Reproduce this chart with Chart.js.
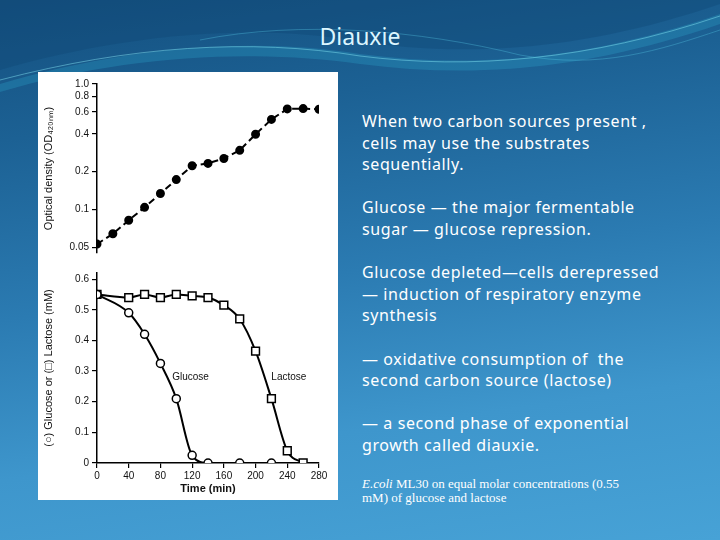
<!DOCTYPE html>
<html>
<head>
<meta charset="utf-8">
<script src="https://cdn.jsdelivr.net/npm/chart.js@4.4.1/dist/chart.umd.min.js"></script>
<style>
  html, body { margin: 0; padding: 0; }
  #slide {
    position: relative; width: 720px; height: 540px; overflow: hidden;
    background: linear-gradient(172deg, #14507f 0%, #1c6194 22%, #2b7bb2 50%, #3e96cc 75%, #47a2d6 100%);
  }
  #swoosh { position: absolute; left: 0; top: 0; }
  #title {
    position: absolute; left: 0; width: 720px; top: 20px; text-align: center;
    font-family: 'Comic Sans MS', 'Noto Sans', sans-serif; font-size: 23px; color: #dcf6ff;
  }
  #figure { position: absolute; left: 38px; top: 72px; width: 300px; height: 428px; background: #fff; }
  #figure canvas { position: absolute; left: 0; }
  #notes {
    position: absolute; left: 362px; top: 111px; width: 358px; color: #fff; white-space: nowrap;
    font-family: 'Comic Sans MS', 'Noto Sans', sans-serif; font-size: 16px;
    line-height: 21.6px; letter-spacing: 0.6px;
  }
  #notes p { margin: 0 0 21.6px 0; }
  #source {
    position: absolute; left: 362px; top: 477px; width: 340px; color: #fff; white-space: nowrap;
    font-family: 'Liberation Serif', serif; font-size: 13px; line-height: 14px; letter-spacing: 0px;
  }
</style>
</head>
<body>
<div id="slide">
  <svg id="swoosh" width="720" height="110" viewBox="0 0 720 110">
    <path d="M0,70 C110,38 240,22 350,40 C460,58 580,52 720,4 L720,0 L0,0 Z" fill="#0f4672" opacity="0.35"/>
    <path d="M0,84 C120,48 250,36 360,54 C470,68 580,62 720,14 L720,24 C580,72 470,78 360,64 C250,48 120,56 0,92 Z" fill="#2fb3d8" opacity="0.25"/>
    <path d="M0,80 C130,46 250,38 360,56 C470,70 590,60 720,16" fill="none" stroke="#7fe0f0" stroke-width="1" opacity="0.5"/>
    <path d="M200,40 C300,20 420,30 520,55 C600,70 660,50 720,30" fill="none" stroke="#56c8e6" stroke-width="1" opacity="0.35"/>
  </svg>
  <div id="title">Diauxie</div>
  <div id="figure">
    <canvas id="growth" width="300" height="190" style="top:0"></canvas>
    <canvas id="sugars" width="300" height="238" style="top:190px"></canvas>
  </div>
  <div id="notes">
    <p>When two carbon sources present ,<br>cells may use the substrates<br>sequentially.</p>
    <p>Glucose — the major fermentable<br>sugar — glucose repression.</p>
    <p>Glucose depleted—cells derepressed<br>— induction of respiratory enzyme<br>synthesis</p>
    <p>— oxidative consumption of &nbsp;the<br>second carbon source (lactose)</p>
    <p>— a second phase of exponential<br>growth called diauxie.</p>
  </div>
  <div id="source"><i>E.coli</i> ML30 on equal molar concentrations (0.55<br>mM) of glucose and lactose</div>
</div>
<script>
// growth curve (top panel), OD420 on a log axis
var odTimes = [0, 20, 40, 60, 80, 100, 120, 140, 160, 180, 200, 220, 240, 260, 280];
var odValues = [0.053, 0.064, 0.082, 0.104, 0.134, 0.173, 0.223, 0.233, 0.255, 0.296, 0.398, 0.522, 0.633, 0.637, 0.629];
var odTicks = [0.05, 0.1, 0.2, 0.4, 0.6, 0.8, 1.0];

// sugar concentrations (bottom panel), mM
var glucoseTimes = [0, 40, 60, 80, 100, 120, 140, 180, 220];
var glucoseValues = [0.55, 0.49, 0.42, 0.325, 0.21, 0.025, 0, 0, 0];
var lactoseTimes = [0, 40, 60, 80, 100, 120, 140, 160, 180, 200, 220, 240, 260];
var lactoseValues = [0.55, 0.54, 0.55, 0.54, 0.55, 0.545, 0.54, 0.515, 0.47, 0.365, 0.21, 0.04, 0];
var concTicks = [0, 0.1, 0.2, 0.3, 0.4, 0.5, 0.6];
var timeTicks = [0, 40, 80, 120, 160, 200, 240, 280];

function pairs(xs, ys) {
  return xs.map(function (x, i) { return { x: x, y: ys[i] }; });
}

var tickFont = { family: "'Liberation Sans', Arial, sans-serif", size: 10 };
var titleFont = { family: "'Liberation Sans', Arial, sans-serif", size: 11 };

function axisBits() {
  return {
    grid: { drawOnChartArea: false, drawTicks: true, tickLength: 5, color: '#000', lineWidth: 1.2 },
    border: { display: true, color: '#000', width: 1.5 }
  };
}

var growthY = axisBits();
var growthChart = new Chart(document.getElementById('growth'), {
  type: 'line',
  data: {
    datasets: [{
      data: pairs(odTimes, odValues),
      borderColor: '#000',
      borderWidth: 2,
      borderDash: [7, 4],
      pointRadius: 3.5,
      pointBackgroundColor: '#000',
      pointBorderColor: '#000',
      tension: 0
    }]
  },
  options: {
    responsive: false,
    animation: false,
    devicePixelRatio: 1,
    layout: { padding: { top: 12, bottom: 6, right: 19, left: 0 } },
    plugins: { legend: { display: false }, tooltip: { enabled: false } },
    scales: {
      x: { type: 'linear', min: 0, max: 280, display: false },
      y: {
        type: 'logarithmic', min: 0.045, max: 1.0,
        grid: growthY.grid, border: growthY.border,
        afterBuildTicks: function (scale) {
          scale.ticks = odTicks.map(function (v) { return { value: v }; });
        },
        afterFit: function (scale) { scale.width = 59; },
        ticks: {
          color: '#111', font: tickFont, padding: 3, autoSkip: false,
          callback: function (v) { return v === 1 ? '1.0' : String(v); }
        },
        title: { display: true, text: 'Optical density (OD₄₂₀ₙₘ)', color: '#111', font: titleFont }
      }
    }
  }
});

// "Glucose" / "Lactose" curve labels
var curveLabels = {
  id: 'curveLabels',
  afterDatasetsDraw: function (chart) {
    var ctx = chart.ctx, xs = chart.scales.x, ys = chart.scales.y;
    ctx.save();
    ctx.fillStyle = '#111';
    ctx.font = "10px 'Liberation Sans', Arial, sans-serif";
    ctx.textAlign = 'center';
    ctx.textBaseline = 'middle';
    ctx.fillText('Glucose', xs.getPixelForValue(118), ys.getPixelForValue(0.28));
    ctx.fillText('Lactose', xs.getPixelForValue(242), ys.getPixelForValue(0.28));
    ctx.restore();
  }
};

var sugarY = axisBits();
var sugarX = axisBits();
var sugarChart = new Chart(document.getElementById('sugars'), {
  type: 'line',
  data: {
    datasets: [{
      label: 'Glucose',
      data: pairs(glucoseTimes, glucoseValues),
      borderColor: '#000',
      borderWidth: 2,
      cubicInterpolationMode: 'monotone',
      pointStyle: 'circle',
      pointRadius: 4,
      pointBorderWidth: 1.5,
      pointBackgroundColor: '#fff',
      pointBorderColor: '#000'
    }, {
      label: 'Lactose',
      data: pairs(lactoseTimes, lactoseValues),
      borderColor: '#000',
      borderWidth: 2,
      cubicInterpolationMode: 'monotone',
      pointStyle: 'rect',
      pointRadius: 5.5,
      pointBorderWidth: 1.5,
      pointBackgroundColor: '#fff',
      pointBorderColor: '#000'
    }]
  },
  options: {
    responsive: false,
    animation: false,
    devicePixelRatio: 1,
    layout: { padding: { top: 11, bottom: 0, right: 19, left: 0 } },
    plugins: { legend: { display: false }, tooltip: { enabled: false } },
    scales: {
      x: {
        type: 'linear', min: 0, max: 280,
        grid: sugarX.grid, border: sugarX.border,
        afterBuildTicks: function (scale) {
          scale.ticks = timeTicks.map(function (v) { return { value: v }; });
        },
        afterFit: function (scale) { scale.height = 37; },
        ticks: { color: '#111', font: tickFont, padding: 2, maxRotation: 0, autoSkip: false },
        title: { display: true, text: 'Time (min)', color: '#111', font: { family: titleFont.family, size: 11, weight: 'bold' }, padding: { top: 2, bottom: 4 } }
      },
      y: {
        min: 0, max: 0.62,
        grid: sugarY.grid, border: sugarY.border,
        afterBuildTicks: function (scale) {
          scale.ticks = concTicks.map(function (v) { return { value: v }; });
        },
        afterFit: function (scale) { scale.width = 59; },
        ticks: {
          color: '#111', font: tickFont, padding: 3, autoSkip: false,
          callback: function (v) { return v === 0 ? '0' : v.toFixed(1); }
        },
        title: { display: true, text: '(○) Glucose or (□) Lactose (mM)', color: '#111', font: titleFont }
      }
    }
  },
  plugins: [curveLabels]
});
</script>
</body>
</html>
